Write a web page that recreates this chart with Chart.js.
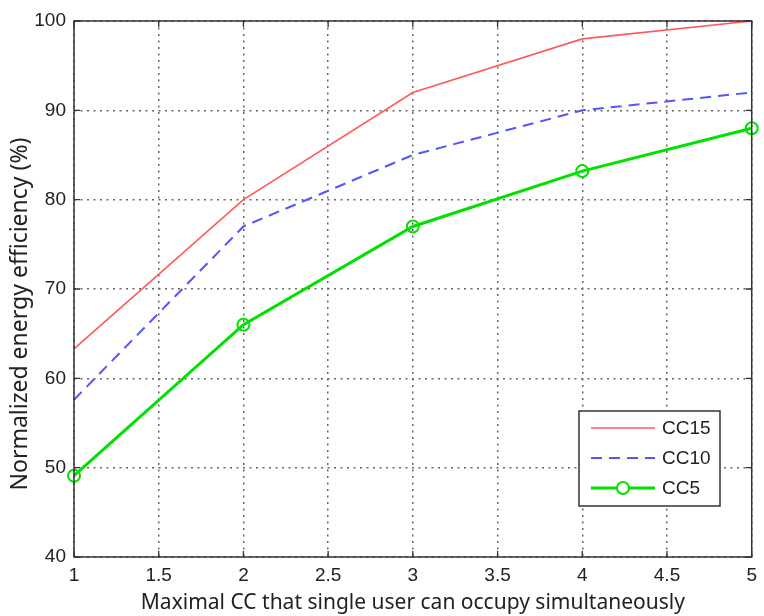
<!DOCTYPE html>
<html>
<head>
<meta charset="utf-8">
<script src="https://cdn.jsdelivr.net/npm/chart.js@4"></script>
<style>
    html, body { margin: 0; padding: 0; background: #fff; }
    #wrap { width: 764px; height: 616px; }
</style>
</head>
<body>
<div id="wrap"><canvas id="effChart" width="764" height="616"></canvas></div>
<script>
// values
const maxCC = [1, 2, 3, 4, 5];
const cc15 = [63.3, 80, 92, 98, 100];
const cc10 = [57.6, 77, 85, 90, 92];
const cc5 = [49.1, 66, 77, 83.2, 88];
const seriesNames = ['CC15', 'CC10', 'CC5'];

const xTitle = 'Maximal CC that single user can occupy simultaneously';
const yTitle = 'Normalized energy efficiency (%)';

const tickFont = { family: 'Liberation Sans', size: 19 };
const titleFont = { family: 'Noto Sans', size: 21 };

function toPoints(values) {
    return values.map((v, i) => ({ x: maxCC[i], y: v }));
}

// box round the plot, inward tick marks, y title and the legend
const matlabFrame = {
    id: 'matlabFrame',
    afterDatasetsDraw(chart) {
        const ctx = chart.ctx;
        const a = chart.chartArea;
        const xs = chart.scales.x;
        const ys = chart.scales.y;
        ctx.save();
        ctx.strokeStyle = '#333';
        ctx.lineWidth = 1.5;
        ctx.strokeRect(a.left, a.top, a.right - a.left, a.bottom - a.top);

        ctx.lineWidth = 1.3;
        ctx.beginPath();
        xs.ticks.forEach(t => {
            const px = xs.getPixelForValue(t.value);
            ctx.moveTo(px, a.bottom); ctx.lineTo(px, a.bottom - 6);
            ctx.moveTo(px, a.top); ctx.lineTo(px, a.top + 6);
        });
        ys.ticks.forEach(t => {
            const py = ys.getPixelForValue(t.value);
            ctx.moveTo(a.left, py); ctx.lineTo(a.left + 6, py);
            ctx.moveTo(a.right, py); ctx.lineTo(a.right - 6, py);
        });
        ctx.stroke();

        // y axis title (sits a little below the plot centre in the original)
        ctx.save();
        ctx.translate(20, 314);
        ctx.rotate(-Math.PI / 2);
        ctx.font = '23px "Noto Sans"';
        ctx.fillStyle = '#222';
        ctx.textAlign = 'center';
        ctx.textBaseline = 'middle';
        ctx.fillText(yTitle, 0, 0);
        ctx.restore();

        // legend
        const box = { x: 579, y: 411, w: 141, h: 95 };
        ctx.fillStyle = '#fff';
        ctx.fillRect(box.x, box.y, box.w, box.h);
        ctx.strokeStyle = '#333';
        ctx.lineWidth = 1.5;
        ctx.strokeRect(box.x, box.y, box.w, box.h);

        ctx.font = '19px "Liberation Sans"';
        ctx.textBaseline = 'middle';
        chart.data.datasets.forEach((ds, i) => {
            const rowY = box.y + 17 + i * 30;
            ctx.strokeStyle = ds.borderColor;
            ctx.lineWidth = ds.borderWidth;
            ctx.setLineDash(ds.borderDash || []);
            ctx.beginPath();
            ctx.moveTo(box.x + 12, rowY);
            ctx.lineTo(box.x + 76, rowY);
            ctx.stroke();
            ctx.setLineDash([]);
            if (ds.pointRadius > 0) {
                ctx.beginPath();
                ctx.arc(box.x + 44, rowY, ds.pointRadius, 0, Math.PI * 2);
                ctx.fillStyle = '#fff';
                ctx.fill();
                ctx.lineWidth = ds.pointBorderWidth;
                ctx.stroke();
            }
            ctx.fillStyle = '#222';
            ctx.fillText(ds.label, box.x + 83, rowY + 1);
        });
        ctx.restore();
    }
};

const gridStyle = {
    color: '#666',
    lineWidth: 1.5,
    drawTicks: false
};

const effChart = new Chart(document.getElementById('effChart'), {
    type: 'line',
    data: {
        datasets: [
            {
                label: seriesNames[0],
                data: toPoints(cc15),
                borderColor: 'rgb(255, 90, 90)',
                borderWidth: 1.6,
                pointRadius: 0,
                tension: 0,
                clip: 4
            },
            {
                label: seriesNames[1],
                data: toPoints(cc10),
                borderColor: 'rgb(85, 85, 255)',
                borderWidth: 2,
                borderDash: [11, 7],
                pointRadius: 0,
                tension: 0,
                clip: 4
            },
            {
                label: seriesNames[2],
                data: toPoints(cc5),
                borderColor: 'rgb(0, 225, 0)',
                borderWidth: 3,
                pointRadius: 6,
                pointBorderWidth: 2,
                pointBackgroundColor: 'rgba(255,255,255,0)',
                pointBorderColor: 'rgb(0, 225, 0)',
                tension: 0,
                clip: 8
            }
        ]
    },
    options: {
        responsive: false,
        animation: false,
        layout: { padding: { top: 21, right: 9, left: 0, bottom: 0 } },
        plugins: {
            legend: { display: false },
            tooltip: { enabled: false }
        },
        scales: {
            x: {
                type: 'linear',
                min: 1,
                max: 5,
                ticks: {
                    stepSize: 0.5,
                    color: '#222',
                    font: tickFont,
                    padding: 7,
                    maxRotation: 0,
                    callback: v => String(v)
                },
                grid: gridStyle,
                border: { display: false, dash: [2, 4.5] },
                title: {
                    display: true,
                    text: xTitle,
                    color: '#222',
                    font: titleFont,
                    padding: { top: 0, bottom: 0 }
                },
                afterFit(scale) { scale.height = 59; }
            },
            y: {
                min: 40,
                max: 100,
                ticks: {
                    stepSize: 10,
                    color: '#222',
                    font: tickFont,
                    padding: 8,
                    callback: v => String(v)
                },
                grid: gridStyle,
                border: { display: false, dash: [2, 4.5] },
                afterFit(scale) { scale.width = 74; }
            }
        }
    },
    plugins: [matlabFrame]
});
</script>
</body>
</html>
